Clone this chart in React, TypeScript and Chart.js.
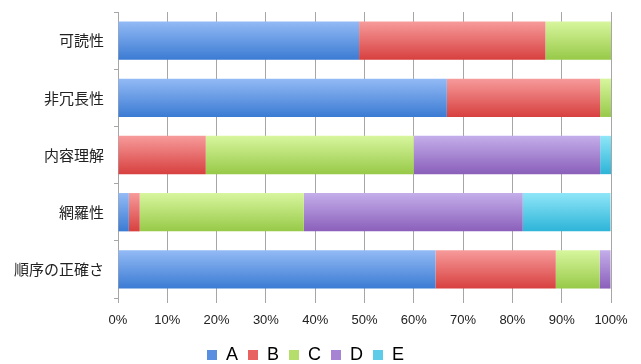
import React, { useEffect, useRef } from "react";
import { Chart, registerables } from "chart.js";

Chart.register(...registerables);

// Criteria rated by the respondents (top to bottom)
const categories = ["可読性", "非冗長性", "内容理解", "網羅性", "順序の正確さ"];

// Share of responses per rating, in percent
const seriesA = [48.9, 66.7, 0, 2.2, 64.4];
const seriesB = [37.8, 31.1, 17.8, 2.2, 24.4];
const seriesC = [13.3, 2.2, 42.2, 33.3, 8.9];
const seriesD = [0, 0, 37.8, 44.4, 2.2];
const seriesE = [0, 0, 2.2, 17.8, 0];

const seriesNames = ["A", "B", "C", "D", "E"];
const xTicks = [0, 10, 20, 30, 40, 50, 60, 70, 80, 90, 100];

// [light top, dark bottom, legend swatch]
const palette: [string, string, string][] = [
  ["#93baf5", "#3b7bd3", "#5a8fe0"],
  ["#f79b9b", "#d7403f", "#e86262"],
  ["#d8f69e", "#97c948", "#b6de6c"],
  ["#c4aeea", "#8a5fba", "#a683d3"],
  ["#8fe6f8", "#2db4d8", "#5ccce8"],
];

const BAR_PCT = 0.67;

function gradientFill(top: string, bottom: string) {
  return (ctx: any) => {
    const chart = ctx.chart;
    const y = chart.scales && chart.scales.y;
    if (!y || ctx.type !== "data" || !chart.chartArea) return bottom;
    const center = y.getPixelForValue(ctx.dataIndex);
    const half = ((y.bottom - y.top) / categories.length) * BAR_PCT / 2;
    const g = chart.ctx.createLinearGradient(0, center - half, 0, center + half);
    g.addColorStop(0, top);
    g.addColorStop(1, bottom);
    return g;
  };
}

export default function App() {
  const canvasRef = useRef<HTMLCanvasElement>(null);

  useEffect(() => {
    const canvas = canvasRef.current;
    if (!canvas) return;
    const values = [seriesA, seriesB, seriesC, seriesD, seriesE];
    const chart = new Chart(canvas, {
      type: "bar",
      data: {
        labels: categories,
        datasets: values.map((data, i) => ({
          label: seriesNames[i],
          data,
          backgroundColor: gradientFill(palette[i][0], palette[i][1]),
          borderWidth: 0,
          categoryPercentage: 1,
          barPercentage: BAR_PCT,
        })),
      },
      options: {
        indexAxis: "y",
        responsive: false,
        animation: false,
        layout: { padding: { left: 0, right: 30, top: 12, bottom: -10 } },
        scales: {
          x: {
            stacked: true,
            min: 0,
            max: 100,
            afterBuildTicks: (scale: any) => {
              scale.ticks = xTicks.map((v) => ({ value: v }));
            },
            afterFit: (scale: any) => {
              scale.height = 38;
            },
            ticks: {
              callback: (v: any) => v + "%",
              color: "#222",
              padding: 10,
              maxRotation: 0,
              font: { family: "'Liberation Sans', Arial, sans-serif", size: 13 },
            },
            grid: { color: "#a6a6a6", lineWidth: 1, tickLength: 5 },
            border: { display: false },
          },
          y: {
            stacked: true,
            afterFit: (scale: any) => {
              scale.width = 118;
              scale.paddingTop = 0;
              scale.paddingBottom = 0;
            },
            ticks: {
              color: "#222",
              padding: 10,
              font: { family: "'Noto Sans CJK JP', sans-serif", size: 15 },
            },
            grid: {
              offset: true,
              drawOnChartArea: false,
              drawTicks: true,
              tickLength: 4,
              color: "#a6a6a6",
            },
            border: { display: true, color: "#a6a6a6", width: 1 },
          },
        },
        plugins: {
          tooltip: { enabled: false },
          legend: {
            position: "bottom",
            labels: {
              boxWidth: 10,
              boxHeight: 10,
              padding: 10,
              color: "#222",
              font: { family: "'Liberation Sans', Arial, sans-serif", size: 18 },
              generateLabels: () =>
                seriesNames.map((name, i) => ({
                  text: name,
                  fillStyle: palette[i][2],
                  strokeStyle: palette[i][2],
                  lineWidth: 0,
                  hidden: false,
                  datasetIndex: i,
                })),
            },
          },
        },
      },
    } as any);
    return () => chart.destroy();
  }, []);

  return (
    <div style={{ position: "absolute", left: 0, top: 0, width: 641, height: 364, background: "#fff" }}>
      <canvas ref={canvasRef} width={641} height={364} />
    </div>
  );
}
